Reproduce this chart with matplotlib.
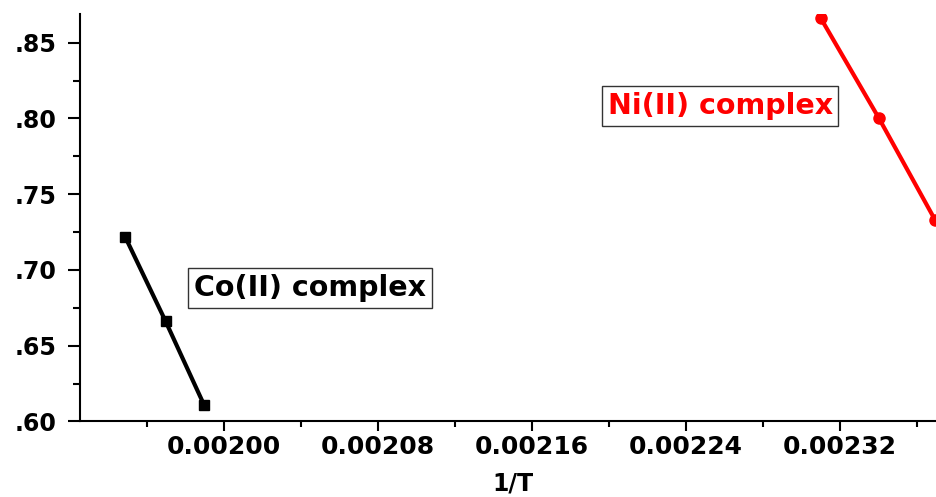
import matplotlib
matplotlib.use("Agg")
import matplotlib.pyplot as plt
from matplotlib.ticker import MultipleLocator, FuncFormatter

# Co(II) complex
co_inv_t = [0.0019486, 0.0019697, 0.0019896]
co_y = [0.722, 0.666, 0.611]

# Ni(II) complex
ni_inv_t = [0.0023101, 0.0023403, 0.0023694]
ni_y = [0.866, 0.800, 0.733]

fig = plt.figure(figsize=(9.37, 4.97), dpi=100)
ax = fig.add_axes([0.085, 0.152, 0.915, 0.820])

ax.plot(co_inv_t, co_y, color="black", lw=3, marker="s", markersize=7.5)
ax.plot(ni_inv_t, ni_y, color="red", lw=3, marker="o", markersize=8)

ax.set_xlim(0.001925, 0.0023704)
ax.set_ylim(0.60, 0.869)

ax.xaxis.set_major_locator(MultipleLocator(0.00008))
ax.xaxis.set_minor_locator(MultipleLocator(0.00004))
ax.yaxis.set_major_locator(MultipleLocator(0.05))
ax.yaxis.set_minor_locator(MultipleLocator(0.025))
ax.xaxis.set_major_formatter(FuncFormatter(lambda v, p: f"{v:.5f}"))
ax.yaxis.set_major_formatter(FuncFormatter(lambda v, p: f"{v:.2f}".lstrip("0")))

for s in ["top", "right"]:
    ax.spines[s].set_visible(False)
for s in ["left", "bottom"]:
    ax.spines[s].set_linewidth(1.5)

ax.tick_params(axis="y", which="major", length=9, width=1.5, pad=8)
ax.tick_params(axis="y", which="minor", length=5, width=1.5)
ax.tick_params(axis="x", which="major", length=7, width=1.5, pad=3)
ax.tick_params(axis="x", which="minor", length=4, width=1.5)

for lab in ax.get_xticklabels():
    lab.set_fontsize(18)
    lab.set_fontweight("bold")
for lab in ax.get_yticklabels():
    lab.set_fontsize(17)
    lab.set_fontweight("bold")

ax.set_xlabel("1/T", fontsize=17, fontweight="bold")
ax.xaxis.set_label_coords(0.505, -0.124)

box = dict(boxstyle="square,pad=0.2", facecolor="white", edgecolor="#333333", lw=1)
ax.text(0.0020447, 0.688, "Co(II) complex", color="black", fontsize=20.5,
        fontweight="bold", ha="center", va="center", bbox=box)
ax.text(0.0022577, 0.8083, "Ni(II) complex", color="red", fontsize=20.5,
        fontweight="bold", ha="center", va="center", bbox=box)

fig.savefig("out.png", dpi=100)
